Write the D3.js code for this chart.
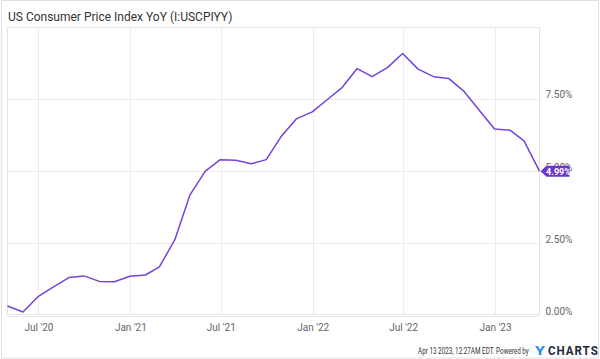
<!DOCTYPE html>
<html><head><meta charset="utf-8">
<script src="https://cdn.jsdelivr.net/npm/d3@7"></script>
<style>body{margin:0;background:#fff}svg{display:block;font-family:Roboto,"Liberation Sans",sans-serif}</style>
</head><body><svg id="c" width="600" height="359"></svg>
<script>
const title = "US Consumer Price Index YoY (I:USCPIYY)";
const months = ["2020-04","2020-05","2020-06","2020-07","2020-08","2020-09","2020-10","2020-11","2020-12",
"2021-01","2021-02","2021-03","2021-04","2021-05","2021-06","2021-07","2021-08","2021-09","2021-10","2021-11","2021-12",
"2022-01","2022-02","2022-03","2022-04","2022-05","2022-06","2022-07","2022-08","2022-09","2022-10","2022-11","2022-12",
"2023-01","2023-02","2023-03"];
const values = [0.33,0.12,0.65,0.99,1.31,1.37,1.18,1.17,1.36,
1.40,1.68,2.62,4.16,4.99,5.39,5.37,5.25,5.39,6.22,6.81,7.04,
7.48,7.87,8.54,8.26,8.58,9.06,8.52,8.26,8.20,7.75,7.11,6.45,
6.41,6.04,4.99];
const xTicks = ["2020-07-01","2021-01-01","2021-07-01","2022-01-01","2022-07-01","2023-01-01"];
const xTickLabels = ["Jul '20","Jan '21","Jul '21","Jan '22","Jul '22","Jan '23"];
const yTicks = [0, 2.5, 5, 7.5];
const yTickLabels = ["0.00%","2.50%","5.00%","7.50%"];
const footer = "Apr 13 2023, 12:27AM EDT.  Powered by";

// month-end dates
const dates = months.map(m => { const [y, mo] = m.split("-").map(Number); return new Date(y, mo, 0); });
const data = dates.map((d, i) => ({d, v: values[i]}));

const svg = d3.select("#c");
const L = 7.5, R = 539.5, T = 27.5, B = 315.5;
const x = d3.scaleTime().domain([dates[0], dates[dates.length-1]]).range([L, R]);
const y = d3.scaleLinear().domain([0, 9.96]).range([B, T]);

svg.append("rect").attr("x",1.5).attr("y",0.5).attr("width",597).attr("height",357.5)
  .attr("fill","none").attr("stroke","#e0e0e0");

svg.append("text").attr("x",8).attr("y",21).attr("font-size",12).attr("fill","#333").text(title);

// grid
const gx = svg.append("g");
xTicks.forEach(t => {
  const px = Math.round(x(new Date(t + "T00:00:00"))) + 0.5;
  gx.append("line").attr("x1",px).attr("x2",px).attr("y1",T).attr("y2",B).attr("stroke","#ececec");
});
yTicks.forEach(t => {
  const py = Math.round(y(t)) + 0.5;
  gx.append("line").attr("x1",L).attr("x2",R).attr("y1",py).attr("y2",py).attr("stroke","#ececec");
});
// frame
svg.append("rect").attr("x",L).attr("y",T).attr("width",R-L).attr("height",B-T-1)
  .attr("fill","none").attr("stroke","#e3e3e3");

// axes labels via d3 axes
const xAxis = d3.axisBottom(x).tickValues(xTicks.map(t => new Date(t + "T00:00:00")))
  .tickFormat((d,i) => xTickLabels[i]).tickSize(0).tickPadding(8);
const xg = svg.append("g").attr("transform",`translate(0,${B})`).call(xAxis);
xg.select(".domain").remove();
xg.selectAll("text").attr("font-size",10).attr("fill","#666").attr("font-family","Roboto, sans-serif");

const yAxis = d3.axisRight(y).tickValues(yTicks).tickFormat((d,i) => yTickLabels[i]).tickSize(0).tickPadding(6);
const yg = svg.append("g").attr("transform",`translate(${R+0},-4)`).call(yAxis);
yg.select(".domain").remove();
yg.selectAll("text").attr("font-size",10).attr("fill","#666").attr("font-family","Roboto, sans-serif");

// line
const line = d3.line().x(d => x(d.d)).y(d => y(d.v));
svg.append("path").datum(data).attr("d",line).attr("fill","none")
  .attr("stroke","#7443dd").attr("stroke-width",1.5).attr("stroke-linejoin","round");

// last value tag
const last = data[data.length-1];
const lx = x(last.d) + 1, ly = y(last.v);
svg.append("path").attr("d",`M${lx},${ly} L${lx+6},${ly-5.5} L${lx+29},${ly-5.5} L${lx+29},${ly+5.5} L${lx+6},${ly+5.5} Z`)
  .attr("fill","#6a35d0");
svg.append("text").attr("x",lx+18).attr("y",ly+3.5).attr("text-anchor","middle")
  .attr("font-size",9).attr("font-weight","bold").attr("fill","#fff").text(last.v.toFixed(2) + "%");

// footer: fit texts horizontally with a scale transform
function fitted(x0, yb, width, size, weight, fill, txt) {
  const t = svg.append("text").attr("x",0).attr("y",0).attr("font-size",size)
    .attr("font-weight",weight).attr("fill",fill).text(txt);
  const w = t.node().getComputedTextLength();
  t.attr("transform",`translate(${x0},${yb}) scale(${width / w},1)`);
  return t;
}
fitted(418, 354, 111, 9.5, "normal", "#333", footer);
fitted(535, 355, 10, 13, "bold", "#1f8ff0", "Y");
fitted(548, 354.5, 45, 12, "bold", "#1e2a3a", "CHARTS").attr("letter-spacing",1);
</script></body></html>
